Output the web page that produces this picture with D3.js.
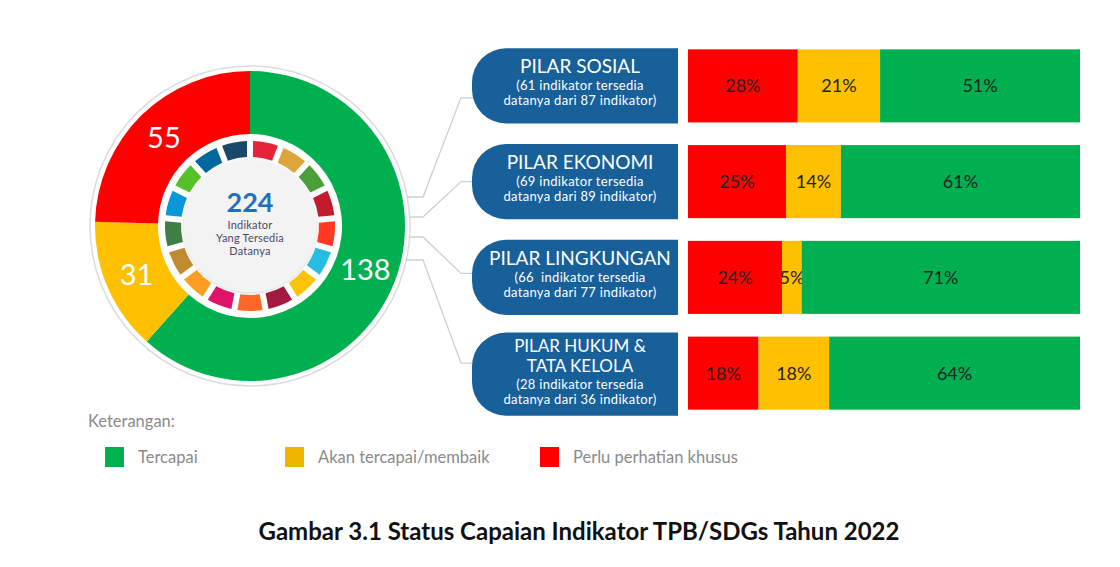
<!DOCTYPE html>
<html lang="id">
<head>
<meta charset="UTF-8">
<title>Status Capaian Indikator TPB/SDGs 2022</title>
<script src="https://d3js.org/d3.v7.min.js"></script>
<style>
    body {margin: 0; background: #fff;}
    text {font-family: Lato, "Open Sans", sans-serif;}
</style>
</head>
<body>
<script>
    // status categories (donut + legend + bar segments)
    const statusNames  = ["Tercapai", "Akan tercapai/membaik", "Perlu perhatian khusus"];
    const statusColors = ["#00B050", "#FFC000", "#FF0000"];
    const donutValues  = [138, 31, 55];
    const centerLines  = ["Indikator", "Yang Tersedia", "Datanya"];

    // pillars
    const pillars       = ["PILAR SOSIAL", "PILAR EKONOMI", "PILAR LINGKUNGAN", "PILAR HUKUM & TATA KELOLA"];
    const pillarTitle   = [["PILAR SOSIAL"], ["PILAR EKONOMI"], ["PILAR LINGKUNGAN"], ["PILAR HUKUM &", "TATA KELOLA"]];
    const pillarAvail   = [61, 69, 66, 28];
    const pillarTotal   = [87, 89, 77, 36];
    const redPct        = [28, 25, 24, 18];
    const yellowPct     = [21, 14, 5, 18];
    const greenPct      = [51, 61, 71, 64];

    // 17 SDG goal colours for the small inner ring
    const sdgColors = ["#E5243B", "#DDA63A", "#4C9F38", "#C5192D", "#FF3A21", "#26BDE2", "#FCC30B",
                       "#A21942", "#FD6925", "#DD1367", "#FD9D24", "#BF8B2E", "#3F7E44", "#0A97D9",
                       "#56C02B", "#00689D", "#19486A"];

    const width = 1120, height = 567;
    const svg = d3.select("body").append("svg")
            .attr("width", width).attr("height", height);

    const defs = svg.append("defs");
    const sh = defs.append("filter").attr("id", "soft").attr("x", "-20%").attr("y", "-20%")
            .attr("width", "140%").attr("height", "140%");
    sh.append("feDropShadow").attr("dx", 0).attr("dy", 1).attr("stdDeviation", 2)
            .attr("flood-color", "#000").attr("flood-opacity", 0.18);

    // ---------- donut ----------
    const cx = 250, cy = 226;
    const donut = svg.append("g").attr("transform", `translate(${cx},${cy})`);

    donut.append("circle").attr("r", 160)
            .style("fill", "#fff").style("stroke", "#dcdcdc").style("stroke-width", 1.5);

    const pie = d3.pie().sort(null).value(d => d);
    const arc = d3.arc().innerRadius(92).outerRadius(155);
    const slices = pie(donutValues);

    donut.selectAll("path.slice")
            .data(slices)
            .enter().append("path")
            .attr("class", "slice")
            .attr("d", arc)
            .style("fill", (d, i) => statusColors[i]);

    donut.selectAll("text.val")
            .data(slices)
            .enter().append("text")
            .attr("class", "val")
            .attr("transform", d => `translate(${arc.centroid(d)})`)
            .attr("text-anchor", "middle")
            .attr("dy", "0.36em")
            .style("fill", "#fff")
            .style("font-size", "29px")
            .text(d => d.data);

    // inner white disc with SDG ring
    donut.append("circle").attr("r", 91).style("fill", "#fff");
    donut.append("circle").attr("r", 66).style("fill", "#f3f3f3").attr("filter", "url(#soft)");

    const sdgArc = d3.arc().innerRadius(69).outerRadius(85).padAngle(0.055);
    const sdgPie = d3.pie().sort(null).value(1);
    donut.selectAll("path.sdg")
            .data(sdgPie(sdgColors))
            .enter().append("path")
            .attr("class", "sdg")
            .attr("d", sdgArc)
            .style("fill", d => d.data);

    donut.append("text")
            .attr("y", -14)
            .attr("text-anchor", "middle")
            .style("font-size", "27px").style("font-weight", "bold")
            .style("fill", "#1F6FC1")
            .text(d3.sum(donutValues));

    donut.selectAll("text.cl")
            .data(centerLines)
            .enter().append("text")
            .attr("class", "cl")
            .attr("y", (d, i) => 3 + i * 13)
            .attr("text-anchor", "middle")
            .style("font-size", "11px")
            .style("letter-spacing", "0.2px")
            .style("fill", "#4a4868")
            .text(d => d);

    // ---------- bars ----------
    const x = d3.scaleLinear().domain([0, 100]).range([688, 1080]);
    const y = d3.scaleBand().domain(pillars).range([38, 421])
            .paddingInner(0.237).paddingOuter(0.1185);

    const stackData = pillars.map((p, i) => ({pillar: p, red: redPct[i], yellow: yellowPct[i], green: greenPct[i]}));
    const keys = ["red", "yellow", "green"];
    const keyColor = {red: statusColors[2], yellow: statusColors[1], green: statusColors[0]};
    const series = d3.stack().keys(keys)(stackData);

    const layer = svg.selectAll("g.layer")
            .data(series)
            .enter().append("g")
            .attr("class", "layer")
            .style("fill", d => keyColor[d.key]);

    layer.selectAll("rect")
            .data(d => d)
            .enter().append("rect")
            .attr("x", d => x(d[0]))
            .attr("width", d => x(d[1]) - x(d[0]))
            .attr("y", d => y(d.data.pillar))
            .attr("height", y.bandwidth());

    layer.selectAll("text")
            .data(d => d)
            .enter().append("text")
            .attr("x", d => (x(d[0]) + x(d[1])) / 2)
            .attr("y", d => y(d.data.pillar) + y.bandwidth() / 2)
            .attr("dy", "0.36em")
            .attr("text-anchor", "middle")
            .style("fill", "#222")
            .style("font-size", "18px")
            .text(d => (d[1] - d[0]) + "%");

    // ---------- pillar boxes ----------
    const boxX = 472, boxW = 206, rad = 34;
    function boxPath(y0, h) {
        const p = d3.path();
        p.moveTo(boxX + rad, y0);
        p.lineTo(boxX + boxW, y0);
        p.lineTo(boxX + boxW, y0 + h);
        p.lineTo(boxX + rad, y0 + h);
        p.arcTo(boxX, y0 + h, boxX, y0 + h - rad, rad);
        p.lineTo(boxX, y0 + rad);
        p.arcTo(boxX, y0, boxX + rad, y0, rad);
        p.closePath();
        return p.toString();
    }

    const connectOffset = [12, 0, -4, -10];
    const startY = [197, 217, 237, 260];

    pillars.forEach((p, i) => {
        const c = y(p) + y.bandwidth() / 2;
        const lines = pillarTitle[i];
        const two = lines.length > 1;
        const h = y.bandwidth() + 2 + (lines.length - 1) * 8;
        const y0 = c - h / 2 + (lines.length - 1);

        // connector line from donut
        const sy = startY[i];
        const sx = cx + Math.sqrt(160 * 160 - (sy - cy) * (sy - cy));
        const ey = c + connectOffset[i];
        svg.append("path")
                .attr("d", d3.line()([[sx, sy], [423, sy], [461, ey], [boxX + 4, ey]]))
                .style("fill", "none").style("stroke", "#cfcfcf").style("stroke-width", 1.3);

        svg.append("path").attr("d", boxPath(y0, h)).style("fill", "#17609A");

        const tx = 580;
        const g = svg.append("g").style("fill", "#fff").attr("text-anchor", "middle");
        let ty = y0 + (two ? 19 : 25);
        lines.forEach(t => {
            g.append("text").attr("x", tx).attr("y", ty)
                    .style("font-size", two ? "17px" : "19px").text(t);
            ty += 20.5;
        });
        ty -= (two ? 4 : 3.5);
        g.append("text").attr("x", tx).attr("y", ty).style("font-size", "13px")
                .style("letter-spacing", "0.3px")
                .attr("xml:space", "preserve")
                .text(`(${pillarAvail[i]}${i === 2 ? "  " : " "}indikator tersedia`);
        g.append("text").attr("x", tx).attr("y", ty + 15).style("font-size", "13px")
                .style("letter-spacing", "0.3px")
                .text(`datanya dari ${pillarTotal[i]} indikator)`);
    });

    // ---------- legend ----------
    svg.append("text").attr("x", 88).attr("y", 427)
            .style("font-size", "16.5px").style("fill", "#8a8a8a")
            .text("Keterangan:");

    const legX = [105, 285, 540];
    const leg = svg.selectAll("g.leg")
            .data(statusNames)
            .enter().append("g")
            .attr("class", "leg")
            .attr("transform", (d, i) => `translate(${legX[i]},447)`);
    leg.append("rect").attr("width", 19).attr("height", 20)
            .style("fill", (d, i) => i === 1 ? "#EDB400" : statusColors[i]);
    leg.append("text").attr("x", 33).attr("y", 16)
            .style("font-size", "16.5px").style("fill", "#8a8a8a")
            .text(d => d);

    // ---------- caption ----------
    svg.append("text").attr("x", 579).attr("y", 540)
            .attr("text-anchor", "middle")
            .style("font-size", "24px").style("font-weight", "bold").style("fill", "#111")
            .text("Gambar 3.1 Status Capaian Indikator TPB/SDGs Tahun 2022");
</script>
</body>
</html>
